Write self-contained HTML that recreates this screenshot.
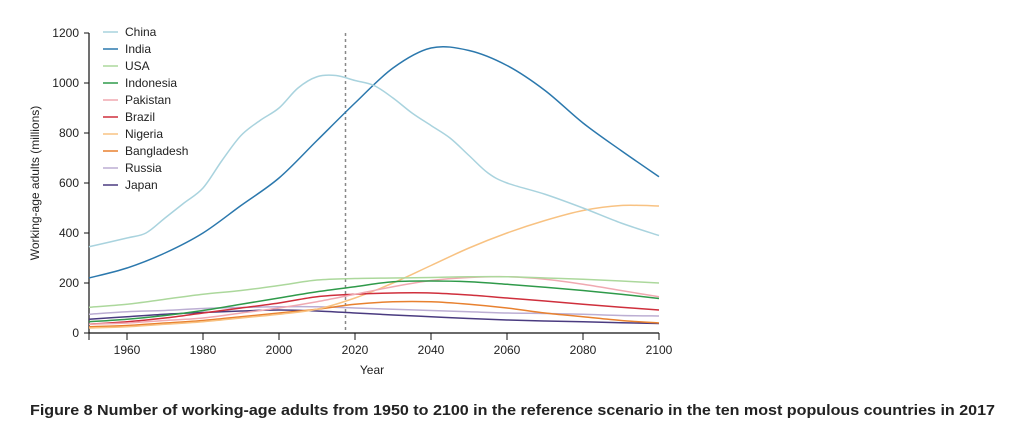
<!DOCTYPE html>
<html><head><meta charset="utf-8"><style>
html,body{margin:0;padding:0;background:#fff;}
svg{display:block;font-family:"Liberation Sans",sans-serif;}
</style></head><body>
<svg id="chart" width="1035" height="428">
<g id="axes"></g><g id="series"></g><g id="legend"></g>
<text x="30" y="415" font-size="14.5" font-weight="bold" fill="#222" textLength="965" lengthAdjust="spacingAndGlyphs">Figure 8 Number of working-age adults from 1950 to 2100 in the reference scenario in the ten most populous countries in 2017</text>
</svg>
<script>
const names=["China","India","USA","Indonesia","Pakistan","Brazil","Nigeria","Bangladesh","Russia","Japan"];
const colors=["#a9d3de","#2b78ad","#acd89c","#2f9a4a","#f0a9b1","#cf2f3c","#f8c282","#e8812f","#bcaed3","#4a3b80"];
const years=[1950,1960,1970,1980,1990,2000,2010,2020,2030,2040,2050,2060,2070,2080,2090,2100];
const chinaYears=[1950,1960,1965,1970,1975,1980,1985,1990,1995,2000,2005,2010,2015,2020,2025,2030,2035,2040,2045,2050,2055,2060,2070,2080,2090,2100];
const china=[345,380,400,460,520,580,690,790,850,900,980,1025,1030,1010,990,940,880,830,780,710,640,600,555,500,440,390];
const india=[220,260,320,400,510,620,770,920,1060,1140,1130,1070,970,840,730,625];
const usa=[103,115,135,155,170,190,212,218,220,222,225,225,220,215,208,200];
const indonesia=[45,55,70,90,115,140,165,185,205,208,205,195,183,170,155,138];
const pakistan=[35,40,50,60,80,100,125,155,185,210,222,225,215,195,170,145];
const brazil=[35,45,60,80,100,120,145,155,160,160,152,140,128,115,103,92];
const nigeria=[20,25,35,45,60,75,95,140,200,270,340,400,450,490,510,508];
const bangladesh=[25,30,40,50,65,80,95,115,125,125,115,100,80,65,50,40];
const russia=[75,85,90,98,102,105,105,100,95,90,85,80,78,75,70,68];
const japan=[55,65,75,82,88,92,88,80,72,65,58,52,48,45,41,38];
const yTicks=[0,200,400,600,800,1000,1200];
const xTicks=[1960,1980,2000,2020,2040,2060,2080,2100];
const refYear=2017.5;
const NS="http://www.w3.org/2000/svg";
const X=y=>89+(y-1950)*3.8, Y=v=>333-v*0.25;
function mk(t,a,p){const e=document.createElementNS(NS,t);for(const k in a)e.setAttribute(k,a[k]);p.appendChild(e);return e;}
const ax=document.getElementById('axes');
let e=mk('line',{x1:89,y1:33,x2:89,y2:333,stroke:'#111','stroke-width':1.2},ax);

e=mk('line',{x1:89,y1:333,x2:659,y2:333,stroke:'#111','stroke-width':1.2},ax);

yTicks.forEach(v=>{mk('line',{x1:84,y1:Y(v),x2:89,y2:Y(v),stroke:'#111'},ax);
 const t=mk('text',{x:79,y:Y(v)+4,'text-anchor':'end','font-size':12,fill:'#222'},ax);t.textContent=v;
 });
mk('line',{x1:89,y1:333,x2:89,y2:340,stroke:'#111'},ax);
xTicks.forEach(v=>{mk('line',{x1:X(v),y1:333,x2:X(v),y2:340,stroke:'#111'},ax);
 const t=mk('text',{x:X(v),y:354,'text-anchor':'middle','font-size':12,fill:'#222'},ax);t.textContent=v;
 });
e=mk('text',{x:372,y:374,'text-anchor':'middle','font-size':12,fill:'#222'},ax);e.textContent='Year';

e=mk('text',{x:0,y:0,'text-anchor':'middle','font-size':12,fill:'#222',transform:'translate(39,183) rotate(-90)'},ax);e.textContent='Working-age adults (millions)';

e=mk('line',{x1:X(refYear),y1:33,x2:X(refYear),y2:333,stroke:'#888','stroke-width':1.5,'stroke-dasharray':'3,3'},ax);

function path(xs,vs){const p=xs.map((x,i)=>[X(x),Y(vs[i])]);let d='M'+p[0];
 for(let i=0;i<p.length-1;i++){const p0=p[i-1]||p[i],p1=p[i],p2=p[i+1],p3=p[i+2]||p2;
 d+=' C'+(p1[0]+(p2[0]-p0[0])/6)+','+(p1[1]+(p2[1]-p0[1])/6)+' '+(p2[0]-(p3[0]-p1[0])/6)+','+(p2[1]-(p3[1]-p1[1])/6)+' '+p2;}return d;}
const data=[china,india,usa,indonesia,pakistan,brazil,nigeria,bangladesh,russia,japan];
const sg=document.getElementById('series');
for(let i=data.length-1;i>=0;i--){const xs=i===0?chinaYears:years;
 const l=mk('path',{d:path(xs,data[i]),fill:'none',stroke:colors[i],'stroke-width':1.5},sg);
 
 }
const lg=document.getElementById('legend');
names.forEach((n,i)=>{const y=32+i*17;
 const g=mk('g',{},lg);
 
 
 mk('line',{x1:103,y1:y,x2:118,y2:y,stroke:colors[i],'stroke-width':1.5},g);
 const t=mk('text',{x:125,y:y+4,'font-size':12,fill:'#222'},g);t.textContent=n;});
</script>
</body></html>
